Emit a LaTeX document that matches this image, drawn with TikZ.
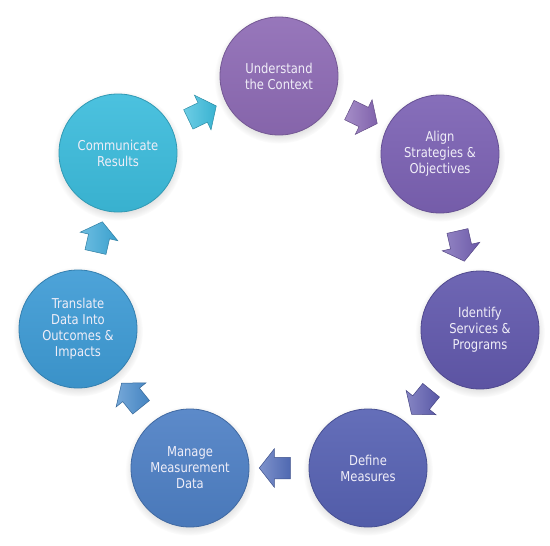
\documentclass[tikz,border=0pt]{standalone}
\usepackage{fontspec}
\setmainfont{DejaVu Sans}[FakeStretch=0.85]
\usetikzlibrary{calc,shapes.arrows,shadows}
\definecolor{cA}{HTML}{8E6BB5}
\definecolor{cB}{HTML}{7C62B4}
\definecolor{cC}{HTML}{6259AD}
\definecolor{cD}{HTML}{5762B3}
\definecolor{cE}{HTML}{4E80C5}
\definecolor{cF}{HTML}{3E9BD5}
\definecolor{cG}{HTML}{3CBCDC}
\definecolor{txt}{RGB}{240,238,248}
\tikzset{
  stage/.style={circle, minimum size=118pt, inner sep=0pt, align=center,
    text=txt, font=\fontsize{13.6}{16}\selectfont,
    top color=#1!92!white, bottom color=#1!94!black,
    draw=#1!82!black, line width=0.8pt,
    circular drop shadow={shadow xshift=0pt, shadow yshift=-2.5pt, opacity=0.25}},
  flow/.style={single arrow, inner sep=10.5pt, minimum height=31pt,
    single arrow head extend=8.5pt, single arrow tip angle=104,
    left color=#1!75!white, right color=#1!95!black,
    draw=#1!75!black, line width=0.5pt}
}
\begin{document}
\begin{tikzpicture}[x=1pt,y=-1pt]
\useasboundingbox[fill=white] (0,0) rectangle (550,546);
\node[stage=cA] (s1) at (279,76)  {Understand\\the Context};
\node[stage=cB] (s2) at (440,154) {Align\\Strategies \&\\Objectives};
\node[stage=cC] (s3) at (480,330) {Identify\\Services \&\\Programs};
\node[stage=cD] (s4) at (368,468) {Define\\Measures};
\node[stage=cE] (s5) at (190,468) {Manage\\Measurement\\Data};
\node[stage=cF] (s6) at (78,329)  {Translate\\Data Into\\Outcomes \&\\Impacts};
\node[stage=cG] (s7) at (118,153) {Communicate\\Results};
\node[flow=cA!60!cB, rotate=-25.8]  (a1) at ($(s1)!0.5!(s2)$) {};
\node[flow=cB!60!cC, rotate=-77.2]  (a2) at ($(s2)!0.5!(s3)$) {};
\node[flow=cC!60!cD, rotate=-129.1] (a3) at ($(s3)!0.5!(s4)$) {};
\node[flow=cD!60!cE, rotate=180]    (a4) at ($(s4)!0.5!(s5)$) {};
\node[flow=cE!60!cF, rotate=128.9]  (a5) at ($(s5)!0.5!(s6)$) {};
\node[flow=cF!60!cG, rotate=77.2]   (a6) at ($(s6)!0.5!(s7)$) {};
\node[flow=cG, rotate=25.6]         (a7) at ($(s7)!0.5!(s1)$) {};
\end{tikzpicture}
\end{document}
